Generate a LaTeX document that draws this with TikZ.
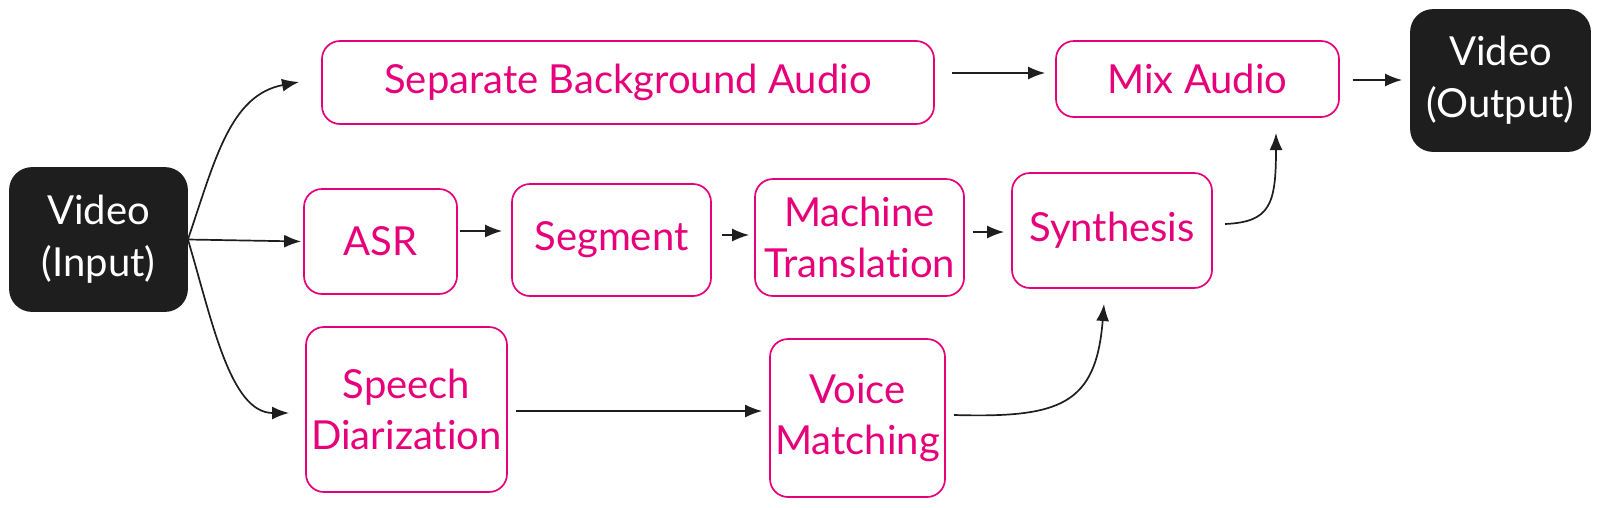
\documentclass[tikz,border=0pt]{standalone}
\usepackage{fontspec}
\setmainfont{Lato}[Ligatures=NoCommon]
\usetikzlibrary{arrows.meta,calc}
\definecolor{pinkc}{RGB}{230,0,122}
\definecolor{darkc}{RGB}{30,30,30}
\tikzset{
  pbox/.style={draw=pinkc, line width=1.7pt, rounded corners=18pt, text=pinkc, align=center, font=\fontsize{40}{51}\selectfont, inner sep=0pt},
  dbox/.style={draw=darkc, fill=darkc, line width=1.8pt, rounded corners=22pt, text=white, align=center, font=\fontsize{40}{52}\selectfont, inner sep=0pt},
  arr/.style={draw=darkc, line width=1.7pt, -{Latex[length=17pt,width=13pt]}},
}
\begin{document}
\begin{tikzpicture}[x=1pt,y=-1pt]
\useasboundingbox (0,0) rectangle (1600,507);
\node[dbox, minimum width=177pt, minimum height=143pt] (in) at (98.5,239.5) {Video\\(Input)};
\node[pbox, minimum width=612pt, minimum height=83pt] (sep) at (628,82.5) {Separate Background Audio};
\node[pbox, minimum width=283pt, minimum height=76pt] (mix) at (1197.5,79) {Mix Audio};
\node[dbox, minimum width=179pt, minimum height=141pt] (out) at (1500.5,80.5) {Video\\(Output)};
\node[pbox, minimum width=153pt, minimum height=105pt] (asr) at (380.5,241.5) {ASR};
\node[pbox, minimum width=199pt, minimum height=112pt] (seg) at (611.5,240) {Segment};
\node[pbox, minimum width=209pt, minimum height=117pt] (mt) at (859.5,237.5) {Machine\\Translation};
\node[pbox, minimum width=200pt, minimum height=115pt] (syn) at (1112,230.5) {Synthesis};
\node[pbox, minimum width=201pt, minimum height=165pt] (spd) at (406.5,409.5) {Speech\\Diarization};
\node[pbox, minimum width=175pt, minimum height=158pt] (vm) at (857.5,418) {Voice\\Matching};
\coordinate (sepin) at (299,82);
\coordinate (spdin) at (289,413);
\coordinate (synout) at (1225,224);
\coordinate (mixin) at (1276,133);
\coordinate (vmout) at (954,415);
\coordinate (synin) at (1104,304);
\draw[arr] (in.east) .. controls (215,160) and (230,95) .. (sepin);
\draw[arr, shorten >=2pt] (in.east) -- (asr.west);
\draw[arr] (in.east) .. controls (212,320) and (230,413) .. (spdin);
\draw[arr, shorten <=2pt, shorten >=9pt] (asr.east |- 0,231) -- (seg.west |- 0,231);
\draw[arr, shorten <=10pt, shorten >=5pt] (seg.east |- 0,235) -- (mt.west |- 0,235);
\draw[arr, shorten <=8pt, shorten >=7pt] (mt.east |- 0,232) -- (syn.west |- 0,232);
\draw[arr, shorten <=17pt, shorten >=10pt] (sep.east |- 0,73) -- (mix.west |- 0,73);
\draw[arr, shorten <=13pt, shorten >=8pt] (mix.east |- 0,80) -- (out.west |- 0,80);
\draw[arr] (synout) .. controls (1270,222) and (1276,205) .. (mixin);
\draw[arr, shorten <=8pt, shorten >=7pt] (spd.east |- 0,411) -- (vm.west |- 0,411);
\draw[arr] (vmout) .. controls (1060,418) and (1096,405) .. (synin);
\end{tikzpicture}
\end{document}
